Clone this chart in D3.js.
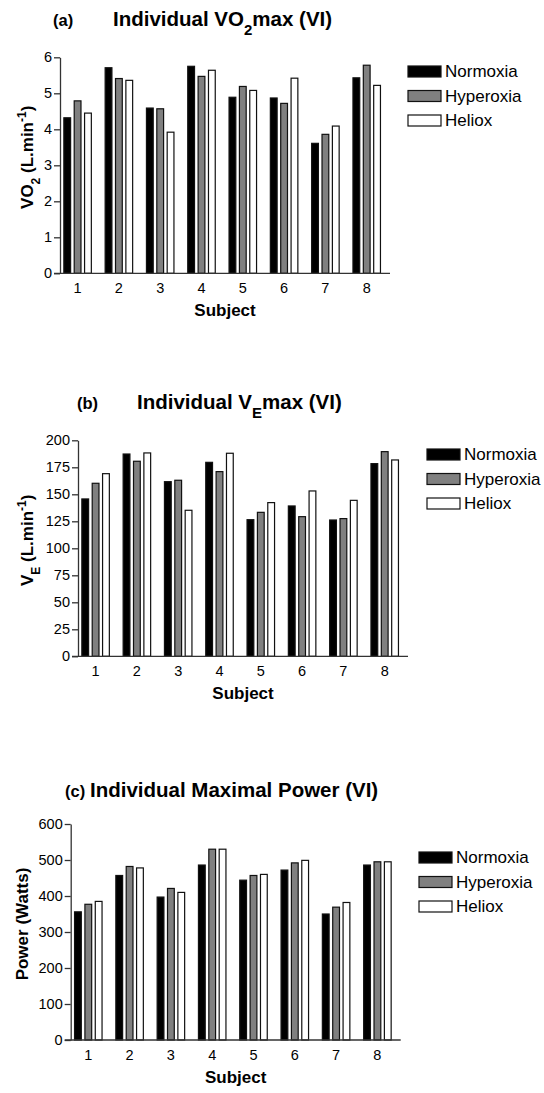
<!DOCTYPE html>
<html>
<head>
<meta charset="utf-8">
<script src="https://cdn.jsdelivr.net/npm/d3@7"></script>
<style>
    body { margin: 0; background: #fff; }
    text { font-family: "Liberation Sans", Arial, sans-serif; fill: #000; }
</style>
</head>
<body>
<div id="chart"></div>
<script>
var subjects = ["1", "2", "3", "4", "5", "6", "7", "8"];
var series_names = ["Normoxia", "Hyperoxia", "Heliox"];
var series_colours = ["#000000", "#808080", "#ffffff"];

var vo2_normoxia = [4.32, 5.71, 4.59, 5.75, 4.89, 4.87, 3.61, 5.43];
var vo2_hyperoxia = [4.79, 5.41, 4.57, 5.47, 5.19, 4.72, 3.86, 5.78];
var vo2_heliox = [4.45, 5.36, 3.92, 5.64, 5.08, 5.42, 4.09, 5.22];
var vo2_ticks = [0, 1, 2, 3, 4, 5, 6];

var ve_normoxia = [145.7, 187.3, 161.7, 179.6, 126.5, 139.2, 126.2, 178.4];
var ve_hyperoxia = [160.2, 180.6, 163.0, 171.0, 133.3, 129.3, 127.5, 189.5];
var ve_heliox = [169.1, 188.3, 135.2, 188.0, 142.3, 153.1, 144.4, 181.8];
var ve_ticks = [0, 25, 50, 75, 100, 125, 150, 175, 200];

var power_normoxia = [356, 457, 397, 486, 444, 472, 350, 486];
var power_hyperoxia = [377, 482, 421, 530, 457, 492, 369, 495];
var power_heliox = [385, 478, 410, 530, 460, 499, 382, 495];
var power_ticks = [0, 100, 200, 300, 400, 500, 600];

var svg = d3.select("#chart").append("svg")
            .attr("width", 544)
            .attr("height", 1093);

var panels = [
    {
        series: [vo2_normoxia, vo2_hyperoxia, vo2_heliox], ticks: vo2_ticks, y_max: 6,
        left: 60, top: 57.3, bottom: 273.3,
        letter: "(a)", letter_x: 53, title_x: 113, title_y: 26,
        title: [["Individual VO", 0], ["2", -1], ["max (VI)", 0]],
        y_label: [["VO", 0], ["2", -1], [" (L.min", 0], ["-1", 1], [")", 0]], y_label_x: 33,
        legend_x: 408, legend_y: 66
    },
    {
        series: [ve_normoxia, ve_hyperoxia, ve_heliox], ticks: ve_ticks, y_max: 200,
        left: 78, top: 440.3, bottom: 656.3,
        letter: "(b)", letter_x: 77, title_x: 137, title_y: 409,
        title: [["Individual V", 0], ["E", -1], ["max (VI)", 0]],
        y_label: [["V", 0], ["E", -1], [" (L.min", 0], ["-1", 1], [")", 0]], y_label_x: 33,
        legend_x: 427, legend_y: 449
    },
    {
        series: [power_normoxia, power_hyperoxia, power_heliox], ticks: power_ticks, y_max: 600,
        left: 70.7, top: 824, bottom: 1040,
        letter: "(c)", letter_x: 65, title_x: 90, title_y: 797,
        title: [["Individual Maximal Power (VI)", 0]],
        y_label: [["Power (Watts)", 0]], y_label_x: 28,
        legend_x: 419, legend_y: 852
    }
];

for (var index in panels)
{
    render_panel(panels[index]);
}

function add_rich_text(text_node, parts, small_size)
{
    for (var index in parts)
    {
        var part = parts[index];
        var tspan = text_node.append("tspan").text(part[0]);

        if (part[1] === -1)
        {
            tspan.attr("baseline-shift", "sub").attr("font-size", small_size);
        }
        else if (part[1] === 1)
        {
            tspan.attr("baseline-shift", "super").attr("font-size", small_size);
        }
    }
}

function render_panel(panel)
{
    var axis_width = 330;

    var x_scale = d3.scaleBand()
                    .domain(subjects)
                    .range([panel.left, panel.left + axis_width])
                    .paddingInner(0.31)
                    .paddingOuter(0.15)
                    .align(0.27);

    var x_inner = d3.scaleBand()
                    .domain(series_names)
                    .range([0, x_scale.bandwidth()])
                    .paddingInner(0.25);

    var y_scale = d3.scaleLinear()
                    .domain([0, panel.y_max])
                    .range([panel.bottom, panel.top]);

    var group = svg.append("g");

    // bars, one group per subject
    for (var s = 0; s < series_names.length; s++)
    {
        var values = panel.series[s];

        group.selectAll(null)
             .data(values)
             .enter()
             .append("rect")
             .attr("x", function (d, i) { return x_scale(subjects[i]) + x_inner(series_names[s]) + 0.5; })
             .attr("y", function (d) { return y_scale(d); })
             .attr("width", x_inner.bandwidth() - 1)
             .attr("height", function (d) { return panel.bottom - y_scale(d); })
             .attr("fill", series_colours[s])
             .attr("stroke", "#111")
             .attr("stroke-width", 1.2);
    }

    var y_axis = group.append("g")
                      .attr("transform", "translate(" + panel.left + ",0)")
                      .call(d3.axisLeft(y_scale)
                              .tickValues(panel.ticks)
                              .tickFormat(d3.format("d"))
                              .tickSize(6)
                              .tickPadding(2)
                              .tickSizeOuter(0));

    y_axis.select(".domain").attr("stroke", "#333").attr("stroke-width", 1.3);
    y_axis.selectAll(".tick line").attr("stroke", "#333").attr("stroke-width", 1.3);
    y_axis.selectAll(".tick text")
          .attr("font-family", "'Liberation Sans', Arial, sans-serif")
          .attr("font-size", 14.5)
          .attr("fill", "#000");

    group.append("line")
         .attr("x1", panel.left - 6)
         .attr("x2", panel.left + axis_width)
         .attr("y1", panel.bottom)
         .attr("y2", panel.bottom)
         .attr("stroke", "#333")
         .attr("stroke-width", 1.3);

    group.selectAll(null)
         .data(subjects)
         .enter()
         .append("text")
         .attr("x", function (d) { return x_scale(d) + x_scale.bandwidth() / 2; })
         .attr("y", panel.bottom + 20)
         .attr("text-anchor", "middle")
         .attr("font-size", 14.5)
         .text(function (d) { return d; });

    group.append("text")
         .attr("x", panel.left + axis_width / 2)
         .attr("y", panel.bottom + 43)
         .attr("text-anchor", "middle")
         .attr("font-size", 17)
         .attr("font-weight", "bold")
         .text("Subject");

    var y_label = group.append("text")
                       .attr("transform", "translate(" + panel.y_label_x + "," + ((panel.top + panel.bottom) / 2 - 8) + ")rotate(-90)")
                       .attr("text-anchor", "middle")
                       .attr("font-size", 17)
                       .attr("font-weight", "bold");
    add_rich_text(y_label, panel.y_label, 12);

    group.append("text")
         .attr("x", panel.letter_x)
         .attr("y", panel.title_y)
         .attr("font-size", 16.5)
         .attr("font-weight", "bold")
         .text(panel.letter);

    var title = group.append("text")
                     .attr("x", panel.title_x)
                     .attr("y", panel.title_y)
                     .attr("font-size", 20.5)
                     .attr("font-weight", "bold");
    add_rich_text(title, panel.title, 15);

    // legend
    for (var k = 0; k < series_names.length; k++)
    {
        var row_y = panel.legend_y + k * 24.5;

        group.append("rect")
             .attr("x", panel.legend_x)
             .attr("y", row_y)
             .attr("width", 33)
             .attr("height", 11)
             .attr("fill", series_colours[k])
             .attr("stroke", "#111")
             .attr("stroke-width", 1.2);

        group.append("text")
             .attr("x", panel.legend_x + 37)
             .attr("y", row_y + 11)
             .attr("font-size", 17)
             .text(series_names[k]);
    }
}
</script>
</body>
</html>
